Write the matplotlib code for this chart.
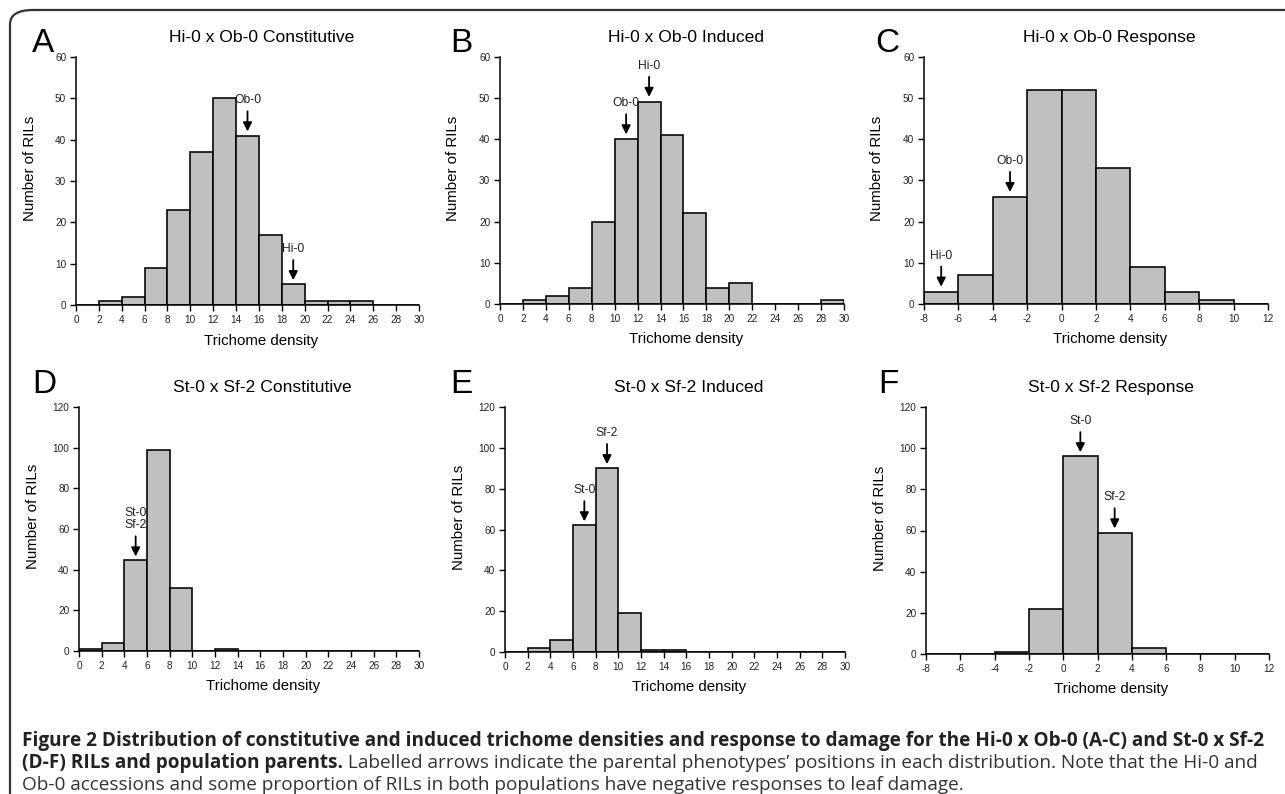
import numpy as np
import matplotlib
matplotlib.use('Agg')
import matplotlib.pyplot as plt
from matplotlib.patches import FancyBboxPatch

plt.rcParams['font.family'] = ['Liberation Sans', 'DejaVu Sans']
plt.rcParams['axes.unicode_minus'] = False

# histogram bins
edges_density = np.arange(0, 31, 2)
edges_response = np.arange(-8, 13, 2)

# counts per bin
counts_a = [0, 1, 2, 9, 23, 37, 50, 41, 17, 5, 1, 1, 1, 0, 0]
counts_b = [0, 1, 2, 4, 20, 40, 49, 41, 22, 4, 5, 0, 0, 0, 1]
counts_c = [3, 7, 26, 52, 52, 33, 9, 3, 1, 0]
counts_d = [1, 4, 45, 99, 31, 0, 1, 0, 0, 0, 0, 0, 0, 0, 0]
counts_e = [0, 2, 6, 62, 90, 19, 1, 1, 0, 0, 0, 0, 0, 0, 0]
counts_f = [0, 0, 1, 22, 96, 59, 3, 0, 0, 0]

titles = ['Hi-0 x Ob-0 Constitutive', 'Hi-0 x Ob-0 Induced', 'Hi-0 x Ob-0 Response',
          'St-0 x Sf-2 Constitutive', 'St-0 x Sf-2 Induced', 'St-0 x Sf-2 Response']
letters = ['A', 'B', 'C', 'D', 'E', 'F']

# parental arrows: (label, x, arrow tip y)
arrows_a = [('Ob-0', 15, 42.0), ('Hi-0', 19, 6.0)]
arrows_b = [('Ob-0', 11, 41.2), ('Hi-0', 13, 50.3)]
arrows_c = [('Hi-0', -7, 4.2), ('Ob-0', -3, 27.2)]
arrows_d = [('St-0\nSf-2', 5, 46.5)]
arrows_e = [('St-0', 7, 64.0), ('Sf-2', 9, 92.0)]
arrows_f = [('St-0', 1, 98.0), ('Sf-2', 3, 61.0)]

caption_bold_1 = ('Figure 2 Distribution of constitutive and induced trichome densities and '
                  'response to damage for the Hi-0 x Ob-0 (A-C) and St-0 x Sf-2')
caption_bold_2 = '(D-F) RILs and population parents.'
caption_reg_2 = (' Labelled arrows indicate the parental phenotypes\u2019 positions in each '
                 'distribution. Note that the Hi-0 and')
caption_reg_3 = ('Ob-0 accessions and some proportion of RILs in both populations have '
                 'negative responses to leaf damage.')

W, H = 1285, 794
fig = plt.figure(figsize=(W / 100, H / 100), dpi=100)

# rounded frame around the whole figure
frame = FancyBboxPatch((10 / W, -20 / H), 1300 / W, (H - 10 + 20) / H,
                       boxstyle='round,pad=0,rounding_size=0.018',
                       transform=fig.transFigure, fill=False,
                       edgecolor='#333333', linewidth=1.6, clip_on=False)
fig.add_artist(frame)

# axes boxes in pixels: left, top, right, bottom
boxes = [(76, 57, 419, 305), (500, 57, 844, 304), (924, 57, 1268, 304),
         (79, 407, 419, 651), (505, 407, 845, 652), (926, 407, 1269, 654)]
letter_pos = [(32, 52), (450, 52), (875, 52), (32, 393), (450, 393), (878, 393)]

panels = [(edges_density, counts_a, 60, 10, arrows_a),
          (edges_density, counts_b, 60, 10, arrows_b),
          (edges_response, counts_c, 60, 10, arrows_c),
          (edges_density, counts_d, 120, 20, arrows_d),
          (edges_density, counts_e, 120, 20, arrows_e),
          (edges_response, counts_f, 120, 20, arrows_f)]

for i, (edges, counts, ymax, ystep, arrows) in enumerate(panels):
    l, t, r, b = boxes[i]
    ax = fig.add_axes([l / W, 1 - b / H, (r - l) / W, (b - t) / H])
    ax.bar(edges[:-1], counts, width=2, align='edge', color='#c0c0c0',
           edgecolor='black', linewidth=1.15)
    ax.set_xlim(edges[0], edges[-1])
    ax.set_ylim(0, ymax)
    ax.set_xticks(edges)
    ax.set_yticks(np.arange(0, ymax + 1, ystep))
    for s in ['top', 'right']:
        ax.spines[s].set_visible(False)
    for s in ['left', 'bottom']:
        ax.spines[s].set_linewidth(1.1)
    ax.tick_params(direction='out', length=4, width=1, labelsize=7.2,
                   labelcolor='#222222', pad=3)
    ax.set_ylabel('Number of RILs', fontsize=10.8)
    ax.yaxis.set_label_coords(-0.115, 0.55)
    ax.set_xlabel('Trichome density', fontsize=10.8)
    ax.xaxis.set_label_coords(0.54, -0.115)
    ax.annotate(titles[i], xy=(0.54, 1), xycoords='axes fraction',
                xytext=(0, 10.8), textcoords='offset points',
                ha='center', va='baseline', fontsize=12.6)
    for lab, x, y in arrows:
        ax.annotate(lab, xy=(x, y), xytext=(0, 18), textcoords='offset points',
                    ha='center', va='bottom', fontsize=8.7, color='#222222',
                    linespacing=1.05,
                    arrowprops=dict(arrowstyle='-|>', color='black', lw=1.3,
                                    mutation_scale=13, shrinkA=1.5, shrinkB=0))
    lx, ly = letter_pos[i]
    fig.text(lx / W, 1 - ly / H, letters[i], fontsize=24, ha='left', va='baseline')

# caption
cap_font = ['Open Sans', 'DejaVu Sans']
cap_x = 22 / W
cap_size = 12
t1 = fig.text(cap_x, 1 - 746 / H, caption_bold_1, fontsize=cap_size,
              fontweight='bold', family=cap_font, color='#222222')
fig.canvas.draw()
renderer = fig.canvas.get_renderer()
w1 = t1.get_window_extent(renderer).width
cap_size = cap_size * (1243 / w1)
t1.set_fontsize(cap_size)
t2 = fig.text(cap_x, 1 - 768 / H, caption_bold_2, fontsize=cap_size,
              fontweight='bold', family=cap_font, color='#222222')
fig.canvas.draw()
x2 = t2.get_window_extent(renderer).x1
fig.text(x2 / W, 1 - 768 / H, caption_reg_2, fontsize=cap_size,
         family=cap_font, color='#333333')
fig.text(cap_x, 1 - 790 / H, caption_reg_3, fontsize=cap_size,
         family=cap_font, color='#333333')

fig.savefig('out.png', dpi=100)
